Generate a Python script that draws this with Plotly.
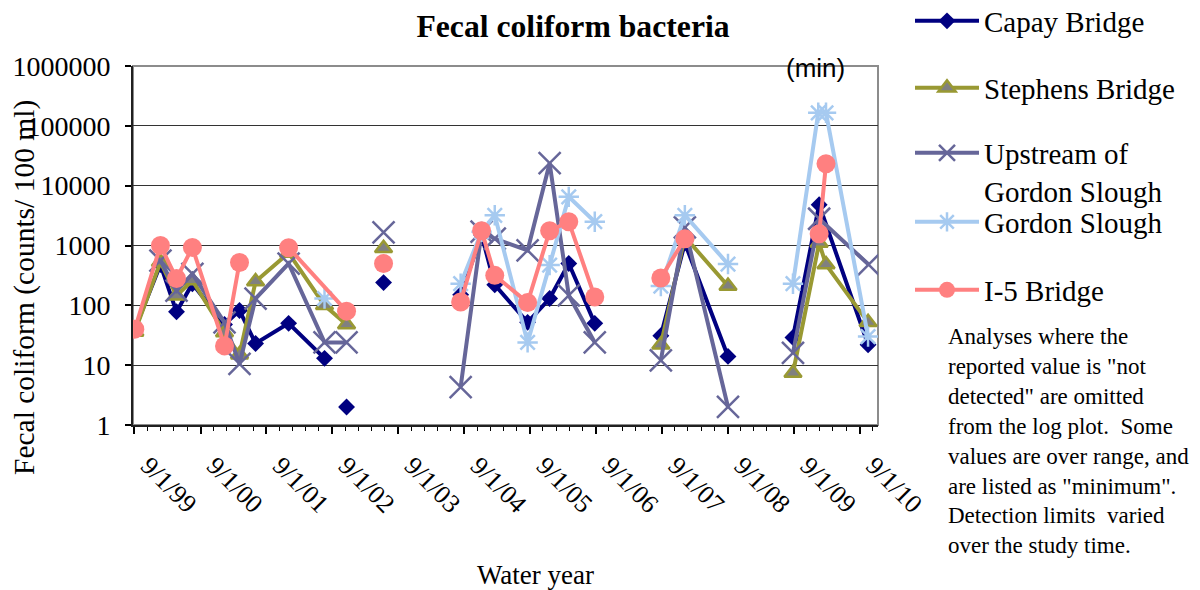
import plotly.graph_objects as go

# ---------------- data ----------------
x_tick_vals = ["1999-09-01", "2000-09-01", "2001-09-01", "2002-09-01", "2003-09-01",
               "2004-09-01", "2005-09-01", "2006-09-01", "2007-09-01", "2008-09-01",
               "2009-09-01", "2010-09-01"]
x_tick_labels = ["9/1/99", "9/1/00", "9/1/01", "9/1/02", "9/1/03", "9/1/04",
                 "9/1/05", "9/1/06", "9/1/07", "9/1/08", "9/1/09", "9/1/10"]
y_tick_vals = [1, 10, 100, 1000, 10000, 100000, 1000000]
y_tick_labels = ["1", "10", "100", "1000", "10000", "100000", "1000000"]

# None = break in the line (value not reported)
capay_dates = ["1999-09-03", "2000-01-23", "2000-04-21", "2000-07-18", "2001-01-12",
               "2001-04-05", "2001-07-03", "2002-01-02", "2002-07-20", None,
               "2002-11-19", None, "2003-06-12", None,
               "2004-08-12", "2004-12-06", "2005-02-17", "2005-08-18", "2005-12-18",
               "2006-04-03", "2006-08-25", None,
               "2007-08-26", "2008-01-06", "2008-09-01", None,
               "2009-08-27", "2010-01-19", "2010-10-17"]
capay_values = [40, 480, 78, 230, 48, 82, 23, 50, 13, None,
                2, None, 240, None,
                150, 1500, 220, 52, 130, 500, 50, None,
                31, 1100, 14, None,
                29, 4800, 22]

stephens_dates = ["1999-09-03", "2000-01-23", "2000-04-21", "2000-07-18", "2001-01-12",
                  "2001-04-05", "2001-07-03", "2002-01-02", "2002-07-20", "2002-11-19",
                  None, "2003-06-12", None,
                  "2007-08-26", "2008-01-06", "2008-09-01", None,
                  "2009-08-27", "2010-01-19", "2010-02-26", "2010-10-17"]
stephens_values = [36, 530, 145, 260, 35, 15, 250, 750, 100, 48,
                   None, 900, None,
                   22, 1400, 210, None,
                   7.4, 1100, 480, 52]

upstream_dates = ["2000-01-23", "2000-04-21", "2000-07-18", "2001-01-12", "2001-04-05",
                  "2001-07-03", "2002-01-02", "2002-07-20", "2002-11-19", None,
                  "2003-06-12", None,
                  "2004-08-12", "2004-12-06", "2005-02-17", "2005-08-18", "2005-12-18",
                  "2006-04-03", "2006-08-25", None,
                  "2007-08-26", "2008-01-06", "2008-09-01", None,
                  "2009-08-27", "2010-01-19", "2010-10-20"]
upstream_values = [560, 176, 335, 52, 10.5, 130, 500, 24, 24, None,
                   1650, None,
                   4.3, 1700, 1300, 830, 23700, 147, 24, None,
                   12, 2000, 2, None,
                   16, 2800, 480]

gordon_dates = ["2002-07-20", None,
                "2004-08-12", "2004-12-06", "2005-02-17", "2005-08-18", "2005-12-18",
                "2006-04-03", "2006-08-25", None,
                "2007-08-26", "2008-01-06", "2008-09-01", None,
                "2009-08-27", "2010-01-14", "2010-02-26", "2010-10-17"]
gordon_values = [130, None,
                 230, 1700, 3200, 24, 470, 6500, 2500, None,
                 210, 3200, 490, None,
                 230, 165000, 165000, 30]

i5_dates = ["1999-09-03", "2000-01-23", "2000-04-21", "2000-07-18", "2001-01-12",
            "2001-04-05", None, "2002-01-02", "2002-11-19", None,
            "2003-06-12", None,
            "2004-08-12", "2004-12-06", "2005-02-17", "2005-08-18", "2005-12-18",
            "2006-04-03", "2006-08-25", None,
            "2007-08-26", "2008-01-06", None,
            "2010-01-19", "2010-02-26"]
i5_values = [40, 1000, 280, 930, 21, 520, None, 920, 80, None,
             500, None,
             114, 1770, 317, 111, 1760, 2500, 138, None,
             286, 1300, None,
             1570, 23300]

# ---------------- figure ----------------
SERIF = "Liberation Serif, Times New Roman, serif"
W, H = 1200, 590
OFF = 8  # page body margin offset compensation (screen = figure + OFF)
PLOT_L, PLOT_T, PW, PH = 133, 66, 745, 359   # plot area on screen
L = PLOT_L - OFF
T = PLOT_T - OFF
R = W - L - PW
B = H - T - PH


def px_x(px):  # screen px -> paper fraction
    return (px - PLOT_L) / PW


def px_y(py):
    return (PLOT_T + PH - py) / PH


def cx(px):  # screen px -> container fraction
    return (px - OFF) / W


def cy(py):
    return 1 - (py - OFF) / H


fig = go.Figure()

fig.add_trace(go.Scatter(
    x=capay_dates, y=capay_values, mode="lines+markers", name="Capay Bridge",
    line=dict(color="#000080", width=4),
    marker=dict(symbol="diamond", size=13, color="#000080"),
    legend="legend"))
fig.add_trace(go.Scatter(
    x=stephens_dates, y=stephens_values, mode="lines+markers", name="Stephens Bridge",
    line=dict(color="#999933", width=4),
    marker=dict(symbol="triangle-up", size=15, color="#808080",
                line=dict(color="#999933", width=2.5)),
    legend="legend2"))
fig.add_trace(go.Scatter(
    x=upstream_dates, y=upstream_values, mode="lines+markers",
    name="Upstream of<br>Gordon Slough",
    line=dict(color="#666699", width=4),
    marker=dict(symbol="x-thin-open", size=22, color="#666699",
                line=dict(color="#666699", width=2.5)),
    legend="legend3"))
fig.add_trace(go.Scatter(
    x=gordon_dates, y=gordon_values, mode="lines+markers", name="Gordon Slough",
    line=dict(color="#A6CAF0", width=4),
    marker=dict(symbol="asterisk-open", size=17, color="#A6CAF0",
                line=dict(color="#A6CAF0", width=2.5)),
    legend="legend4"))
fig.add_trace(go.Scatter(
    x=i5_dates, y=i5_values, mode="lines+markers", name="I-5 Bridge",
    line=dict(color="#FF8080", width=4),
    marker=dict(symbol="circle", size=19, color="#FF8080"),
    legend="legend5"))

legend_common = dict(
    xref="container", yref="container", x=cx(910), xanchor="left",
    yanchor="middle", font=dict(family=SERIF, size=29, color="black"),
    bgcolor="rgba(0,0,0,0)", borderwidth=0, itemwidth=64, valign="top",
    itemclick=False, itemdoubleclick=False)

legend_centres = [21, 88, 172, 222, 290]
legends = {}
for i, yc in enumerate(legend_centres):
    key = "legend" if i == 0 else f"legend{i + 1}"
    legends[key] = dict(legend_common, y=cy(yc))

fig.update_layout(
    width=W, height=H, autosize=False,
    margin=dict(l=L, r=R, t=T, b=B, autoexpand=False),
    paper_bgcolor="white", plot_bgcolor="white",
    font=dict(family=SERIF, color="black"),
    title=dict(text="<b>Fecal coliform bacteria</b>", xref="container", yref="container",
               x=cx(573), y=cy(26), xanchor="center", yanchor="middle",
               font=dict(family=SERIF, size=31.7, color="black")),
    showlegend=True,
    **legends,
)

fig.update_xaxes(
    type="date", range=["1999-08-24", "2010-12-11"], automargin=False,
    tickmode="array", tickvals=x_tick_vals, ticktext=x_tick_labels,
    tickangle=45, ticks="outside", ticklen=7, tickwidth=1.5, tickcolor="black",
    ticklabelstandoff=6, ticklabelshift=14,
    tickfont=dict(family=SERIF, size=26, color="black"),
    showline=True, linecolor="#202020", linewidth=2,
    showgrid=False, zeroline=False,
    minor=dict(ticks="outside", ticklen=4, tickwidth=1.2, tickcolor="black",
               tick0="1999-09-01", dtick=73 * 86400000, showgrid=False),
)
fig.update_yaxes(
    type="log", range=[0, 6], automargin=False,
    tickmode="array", tickvals=y_tick_vals, ticktext=y_tick_labels,
    ticks="outside", ticklen=6, tickwidth=1.5, tickcolor="black",
    ticklabelstandoff=9,
    tickfont=dict(family=SERIF, size=28, color="black"),
    showline=True, linecolor="#202020", linewidth=2,
    showgrid=True, gridcolor="#333333", gridwidth=1, zeroline=False,
)

# gray plot-area border (top and right)
fig.add_shape(type="rect", xref="paper", yref="paper", x0=0, x1=1, y0=0, y1=1,
              line=dict(color="#8c8c8c", width=2), layer="below")

fig.add_annotation(text="Water year", xref="paper", yref="paper",
                   x=px_x(535), y=px_y(575), xanchor="center", yanchor="middle",
                   showarrow=False, font=dict(family=SERIF, size=27, color="black"))
fig.add_annotation(text="Fecal coliform (counts/ 100 ml)", xref="paper", yref="paper",
                   x=px_x(24), y=px_y(288), xanchor="center", yanchor="middle",
                   textangle=-90, showarrow=False,
                   font=dict(family=SERIF, size=29.5, color="black"))
fig.add_annotation(text="(min)", xref="paper", yref="paper",
                   x=px_x(815), y=px_y(68), xanchor="center", yanchor="middle",
                   showarrow=False,
                   font=dict(family="Liberation Sans, Arial, sans-serif", size=26,
                             color="black"))
fig.add_annotation(
    text=("Analyses where the<br>reported value is \"not<br>detected\" are omitted<br>"
          "from the log plot.  Some<br>values are over range, and<br>"
          "are listed as \"minimum\".<br>Detection limits  varied<br>"
          "over the study time."),
    xref="paper", yref="paper", x=px_x(946), y=px_y(322),
    xanchor="left", yanchor="top", align="left", showarrow=False,
    font=dict(family=SERIF, size=23, color="black"))

fig.write_html("out.html")
